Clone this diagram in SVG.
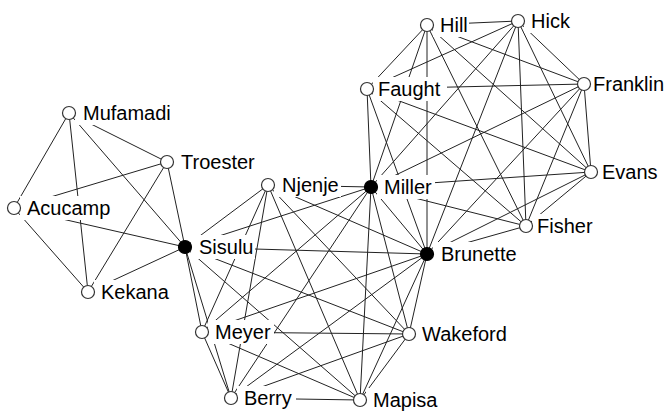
<svg xmlns="http://www.w3.org/2000/svg" width="667" height="412" viewBox="0 0 667 412">
<style>
.e line{stroke:#222;stroke-width:1;fill:none}
.lb{fill:#fff;stroke:none}
.t{font-family:"Liberation Sans",Arial,sans-serif;font-size:20px;fill:#000}
.n{fill:#fff;stroke:#333;stroke-width:1.2}
.k{fill:#000;stroke:#000;stroke-width:1.2}
</style>
<rect width="667" height="412" fill="#fff"/>
<g id="edges" class="e">
<line x1="69" y1="113" x2="167" y2="162"/>
<line x1="69" y1="113" x2="14" y2="208"/>
<line x1="69" y1="113" x2="88" y2="292"/>
<line x1="69" y1="113" x2="185" y2="247"/>
<line x1="167" y1="162" x2="14" y2="208"/>
<line x1="167" y1="162" x2="88" y2="292"/>
<line x1="167" y1="162" x2="185" y2="247"/>
<line x1="14" y1="208" x2="88" y2="292"/>
<line x1="14" y1="208" x2="185" y2="247"/>
<line x1="88" y1="292" x2="185" y2="247"/>
<line x1="185" y1="247" x2="268" y2="185"/>
<line x1="185" y1="247" x2="371" y2="187"/>
<line x1="185" y1="247" x2="427" y2="254"/>
<line x1="185" y1="247" x2="202" y2="332"/>
<line x1="185" y1="247" x2="409" y2="334"/>
<line x1="185" y1="247" x2="231" y2="398"/>
<line x1="185" y1="247" x2="360" y2="400"/>
<line x1="268" y1="185" x2="371" y2="187"/>
<line x1="268" y1="185" x2="427" y2="254"/>
<line x1="268" y1="185" x2="202" y2="332"/>
<line x1="268" y1="185" x2="409" y2="334"/>
<line x1="268" y1="185" x2="231" y2="398"/>
<line x1="268" y1="185" x2="360" y2="400"/>
<line x1="371" y1="187" x2="427" y2="254"/>
<line x1="371" y1="187" x2="202" y2="332"/>
<line x1="371" y1="187" x2="409" y2="334"/>
<line x1="371" y1="187" x2="231" y2="398"/>
<line x1="371" y1="187" x2="360" y2="400"/>
<line x1="427" y1="254" x2="202" y2="332"/>
<line x1="427" y1="254" x2="409" y2="334"/>
<line x1="427" y1="254" x2="231" y2="398"/>
<line x1="427" y1="254" x2="360" y2="400"/>
<line x1="202" y1="332" x2="409" y2="334"/>
<line x1="202" y1="332" x2="231" y2="398"/>
<line x1="202" y1="332" x2="360" y2="400"/>
<line x1="409" y1="334" x2="231" y2="398"/>
<line x1="409" y1="334" x2="360" y2="400"/>
<line x1="231" y1="398" x2="360" y2="400"/>
<line x1="371" y1="187" x2="427" y2="25"/>
<line x1="371" y1="187" x2="518" y2="21"/>
<line x1="371" y1="187" x2="584" y2="84"/>
<line x1="371" y1="187" x2="367" y2="89"/>
<line x1="371" y1="187" x2="591" y2="172"/>
<line x1="371" y1="187" x2="526" y2="226"/>
<line x1="427" y1="254" x2="427" y2="25"/>
<line x1="427" y1="254" x2="518" y2="21"/>
<line x1="427" y1="254" x2="584" y2="84"/>
<line x1="427" y1="254" x2="367" y2="89"/>
<line x1="427" y1="254" x2="591" y2="172"/>
<line x1="427" y1="254" x2="526" y2="226"/>
<line x1="427" y1="25" x2="518" y2="21"/>
<line x1="427" y1="25" x2="584" y2="84"/>
<line x1="427" y1="25" x2="367" y2="89"/>
<line x1="427" y1="25" x2="591" y2="172"/>
<line x1="427" y1="25" x2="526" y2="226"/>
<line x1="518" y1="21" x2="584" y2="84"/>
<line x1="518" y1="21" x2="367" y2="89"/>
<line x1="518" y1="21" x2="591" y2="172"/>
<line x1="518" y1="21" x2="526" y2="226"/>
<line x1="584" y1="84" x2="367" y2="89"/>
<line x1="584" y1="84" x2="591" y2="172"/>
<line x1="584" y1="84" x2="526" y2="226"/>
<line x1="367" y1="89" x2="591" y2="172"/>
<line x1="367" y1="89" x2="526" y2="226"/>
<line x1="591" y1="172" x2="526" y2="226"/>
</g>
<g id="node-mufamadi"><rect class="lb" x="75" y="101" width="103" height="24"/><text class="t" x="83" y="120">Mufamadi</text><circle class="n" cx="69" cy="113" r="6.5"/></g>
<g id="node-troester"><rect class="lb" x="173" y="150" width="86" height="24"/><text class="t" x="181" y="169">Troester</text><circle class="n" cx="167" cy="162" r="6.5"/></g>
<g id="node-acucamp"><rect class="lb" x="20" y="196" width="97" height="24"/><text class="t" x="27" y="215">Acucamp</text><circle class="n" cx="14" cy="208" r="6.5"/></g>
<g id="node-kekana"><rect class="lb" x="94" y="280" width="75" height="24"/><text class="t" x="101" y="299">Kekana</text><circle class="n" cx="88" cy="292" r="6.5"/></g>
<g id="node-sisulu"><rect class="lb" x="191" y="235" width="64" height="24"/><text class="t" x="199" y="254">Sisulu</text><circle class="k" cx="185" cy="247" r="6.5"/></g>
<g id="node-njenje"><rect class="lb" x="274" y="173" width="67" height="24"/><text class="t" x="282" y="192">Njenje</text><circle class="n" cx="268" cy="185" r="6.5"/></g>
<g id="node-miller"><rect class="lb" x="377" y="175" width="58" height="24"/><text class="t" x="384" y="194">Miller</text><circle class="k" cx="371" cy="187" r="6.5"/></g>
<g id="node-brunette"><rect class="lb" x="433" y="242" width="86" height="24"/><text class="t" x="441" y="261">Brunette</text><circle class="k" cx="427" cy="254" r="6.5"/></g>
<g id="node-meyer"><rect class="lb" x="208" y="320" width="66" height="24"/><text class="t" x="215" y="339">Meyer</text><circle class="n" cx="202" cy="332" r="6.5"/></g>
<g id="node-wakeford"><rect class="lb" x="415" y="322" width="98" height="24"/><text class="t" x="422" y="341">Wakeford</text><circle class="n" cx="409" cy="334" r="6.5"/></g>
<g id="node-berry"><rect class="lb" x="237" y="386" width="59" height="24"/><text class="t" x="244" y="405">Berry</text><circle class="n" cx="231" cy="398" r="6.5"/></g>
<g id="node-mapisa"><rect class="lb" x="366" y="388" width="73" height="24"/><text class="t" x="373" y="407">Mapisa</text><circle class="n" cx="360" cy="400" r="6.5"/></g>
<g id="node-hill"><rect class="lb" x="433" y="13" width="36" height="24"/><text class="t" x="440" y="32">Hill</text><circle class="n" cx="427" cy="25" r="6.5"/></g>
<g id="node-hick"><rect class="lb" x="524" y="9" width="48" height="24"/><text class="t" x="531" y="28">Hick</text><circle class="n" cx="518" cy="21" r="6.5"/></g>
<g id="node-franklin"><rect class="lb" x="590" y="72" width="77" height="24"/><text class="t" x="593" y="91">Franklin</text><circle class="n" cx="584" cy="84" r="6.5"/></g>
<g id="node-faught"><rect class="lb" x="373" y="77" width="74" height="24"/><text class="t" x="378" y="96">Faught</text><circle class="n" cx="367" cy="89" r="6.5"/></g>
<g id="node-evans"><rect class="lb" x="597" y="160" width="62" height="24"/><text class="t" x="602" y="179">Evans</text><circle class="n" cx="591" cy="172" r="6.5"/></g>
<g id="node-fisher"><rect class="lb" x="532" y="214" width="62" height="24"/><text class="t" x="537" y="233">Fisher</text><circle class="n" cx="526" cy="226" r="6.5"/></g>
</svg>
